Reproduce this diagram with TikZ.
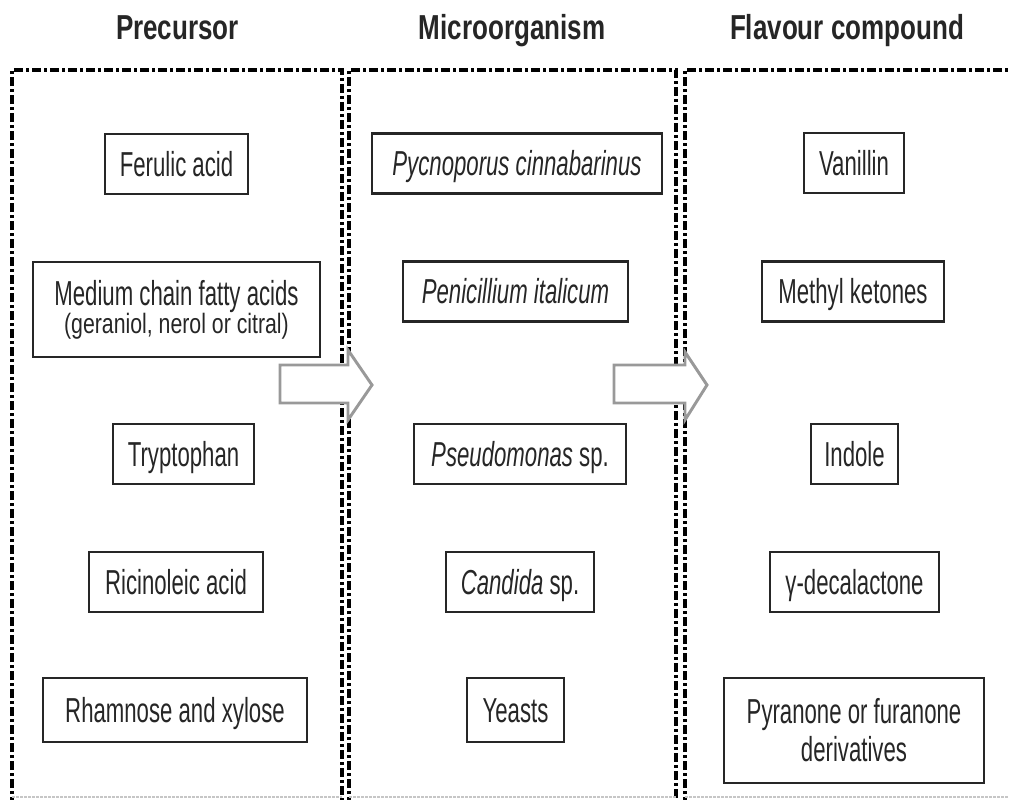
\documentclass[tikz,border=0pt]{standalone}
\usepackage{fontspec}
\setmainfont{Liberation Sans}
\newfontfamily\boxfont[FakeStretch=0.64]{Liberation Sans}
\newfontfamily\subfont[FakeStretch=0.76]{Liberation Sans}
\newfontfamily\headfont[FakeStretch=0.75]{Liberation Sans}

\tikzset{
  panel/.style={draw=black, line width=3pt, dash pattern=on 7pt off 2pt on 2.5pt off 2pt},
  panelfoot/.style={draw=gray!45, line width=0.8pt, dash pattern=on 2pt off 1pt},
  itembox/.style={draw=black!85, line width=1.6pt, fill=white, minimum height=45pt, inner sep=0pt,
    text=black!85, align=center, font=\boxfont\fontsize{26}{21}\selectfont},
  oneline/.style={itembox, text height=18.6pt, text depth=0pt},
  heading/.style={anchor=base, text=black!85, font=\headfont\bfseries\fontsize{26}{30}\selectfont},
  flowarrow/.style={draw=gray!80, line width=2.2pt, fill=white, line join=miter}
}

\begin{document}
\begin{tikzpicture}[x=0.75pt, y=-0.75pt]
    \useasboundingbox (0,0) rectangle (1009,799);
    % The three column frames.
        \draw[panel] (12,806) |- (342,70) -- (342,806);
        \draw[panel] (349,806) |- (676,70) -- (676,806);
        \draw[panel] (685,806) |- (1012,70) -- (1012,806);
        \draw[panelfoot] (12,797) -- (342,797) (349,797) -- (676,797) (685,797) -- (1009,797);
    % Column headings.
        \node[heading] (hPre) at (177.5,40) {Precursor};
        \node[heading] (hMic) at (512,40) {Microorganism};
        \node[heading] (hFla) at (847,40) {Flavour compound};
    % Precursors.
        \node[oneline, minimum width=107.25pt] (ferulic) at (176.5,164) {Ferulic acid};
        \node[itembox, minimum width=215.25pt, minimum height=71.25pt] (fatty) at (176.5,309.5)
            {Medium chain fatty acids\\{\subfont\fontsize{21}{21}\selectfont (geraniol, nerol or citral)}};
        \node[oneline, minimum width=105.75pt] (trypto) at (183.5,454) {Tryptophan};
        \node[oneline, minimum width=130.5pt] (ricin) at (176,582) {Ricinoleic acid};
        \node[oneline, minimum width=198pt, minimum height=48pt] (rhamn) at (175,710) {Rhamnose and xylose};
    % Microorganisms.
        \node[oneline, minimum width=217.5pt] (pycno) at (517,163.5) {\textit{Pycnoporus cinnabarinus}};
        \node[oneline, minimum width=168.75pt] (penic) at (515.5,291.5) {\textit{Penicillium italicum}};
        \node[oneline, minimum width=159pt] (pseudo) at (520,454) {\textit{Pseudomonas} sp.};
        \node[oneline, minimum width=111pt] (candi) at (520,582) {\textit{Candida} sp.};
        \node[oneline, minimum width=72.75pt, minimum height=48pt] (yeast) at (515.5,710) {Yeasts};
    % Flavour compounds.
        \node[oneline, minimum width=75pt] (vanil) at (854,163) {Vanillin};
        \node[oneline, minimum width=136.5pt] (methyl) at (853,291.5) {Methyl ketones};
        \node[oneline, minimum width=65.25pt] (indol) at (854.5,454) {Indole};
        \node[oneline, minimum width=126.75pt] (gdeca) at (854.5,582) {γ-decalactone};
        \node[itembox, minimum width=195pt, minimum height=78.75pt, font=\boxfont\fontsize{26}{28.5}\selectfont]
            (pyran) at (854,730.5) {Pyranone or furanone\\derivatives};
    % Block arrows between the columns.
        \draw[flowarrow] (280,365) -- (348,365) -- (348,350) -- (372,385) -- (348,420) -- (348,403) -- (280,403) -- cycle;
        \draw[flowarrow] (614,365) -- (685,365) -- (685,352) -- (707,385) -- (685,420) -- (685,403) -- (614,403) -- cycle;
\end{tikzpicture}
\end{document}
